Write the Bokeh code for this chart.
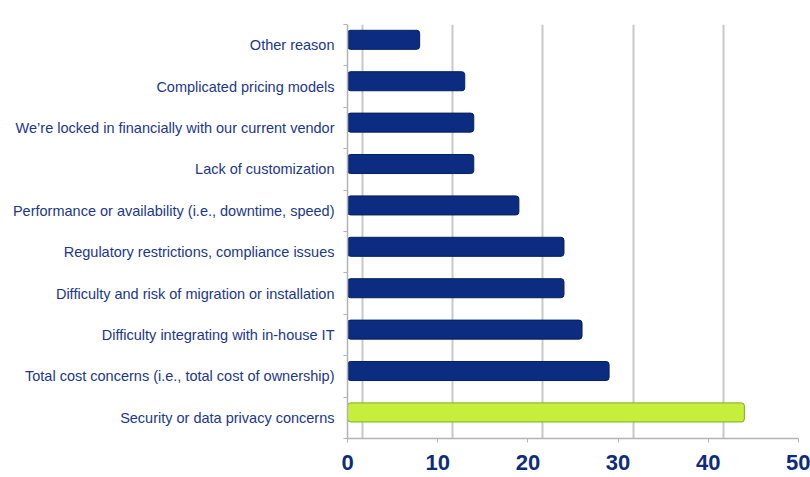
from bokeh.plotting import figure
from bokeh.models import Range1d, FixedTicker, SingleIntervalTicker, Grid, ColumnDataSource
from bokeh.transform import dodge
from bokeh.embed import file_html
from bokeh.resources import INLINE

# Data (bottom to top)
categories = [
    "Security or data privacy concerns",
    "Total cost concerns (i.e., total cost of ownership)",
    "Difficulty integrating with in-house IT",
    "Difficulty and risk of migration or installation",
    "Regulatory restrictions, compliance issues",
    "Performance or availability (i.e., downtime, speed)",
    "Lack of customization",
    "We\u2019re locked in financially with our current vendor",
    "Complicated pricing models",
    "Other reason",
]
values = [44, 29, 26, 24, 24, 19, 14, 14, 13, 8]
highlight = "Security or data privacy concerns"
x_ticks = [0, 10, 20, 30, 40, 50]

NAVY = "#0b2c80"
GREEN = "#c6ee3c"

pos = [i + 0.5 for i in range(len(categories))]
fills = [GREEN if c == highlight else NAVY for c in categories]
lines = ["#7fae1c" if c == highlight else "#06205e" for c in categories]

src = ColumnDataSource(dict(y=pos, v=values, cat=categories, fill=fills, line=lines))

p = figure(
    frame_width=451, frame_height=414,
    min_border_left=347, min_border_right=12, min_border_top=24, min_border_bottom=39,
    x_range=Range1d(0, 50), y_range=Range1d(0, len(categories)),
    output_backend="svg", toolbar_location=None,
    background_fill_color="white", border_fill_color="white",
)
p.outline_line_color = None

# offset "back wall" grid to mimic the 3-D look
p.extra_x_ranges = {"back": Range1d(-1.66, 48.34)}
p.xgrid.visible = False
p.ygrid.visible = False
back_grid = Grid(dimension=0, ticker=SingleIntervalTicker(interval=10),
                 x_range_name="back", grid_line_color="#c8c8c8", grid_line_width=2)
p.add_layout(back_grid)

p.hbar(y=dodge("y", 0.13, range=p.y_range), left=0, right="v", height=0.46, source=src,
       fill_color="fill", line_color="line", line_width=1, border_radius=3)

# X axis
xa = p.xaxis[0]
xa.ticker = FixedTicker(ticks=x_ticks)
xa.axis_line_color = "#b4b4b4"
xa.axis_line_width = 1.5
xa.major_tick_line_color = "#b4b4b4"
xa.major_tick_out = 4
xa.major_tick_in = 0
xa.minor_tick_line_color = None
xa.major_label_text_font = "Liberation Sans"
xa.major_label_text_font_style = "bold"
xa.major_label_text_font_size = "22px"
xa.major_label_text_color = "#0e2c7e"
xa.major_label_standoff = 12

# Y axis
ya = p.yaxis[0]
ya.ticker = FixedTicker(ticks=pos, minor_ticks=list(range(len(categories) + 1)))
ya.major_label_overrides = {y: c for y, c in zip(pos, categories)}
ya.axis_line_color = "#b4b4b4"
ya.axis_line_width = 1.5
ya.major_tick_line_color = None
ya.major_tick_out = 0
ya.major_tick_in = 0
ya.minor_tick_line_color = "#b4b4b4"
ya.minor_tick_out = 4
ya.minor_tick_in = 0
ya.major_label_text_font = "Liberation Sans"
ya.major_label_text_font_size = "14.5px"
ya.major_label_text_color = "#1c3887"
ya.major_label_standoff = 9

open("out.html", "w").write(file_html(p, INLINE))
